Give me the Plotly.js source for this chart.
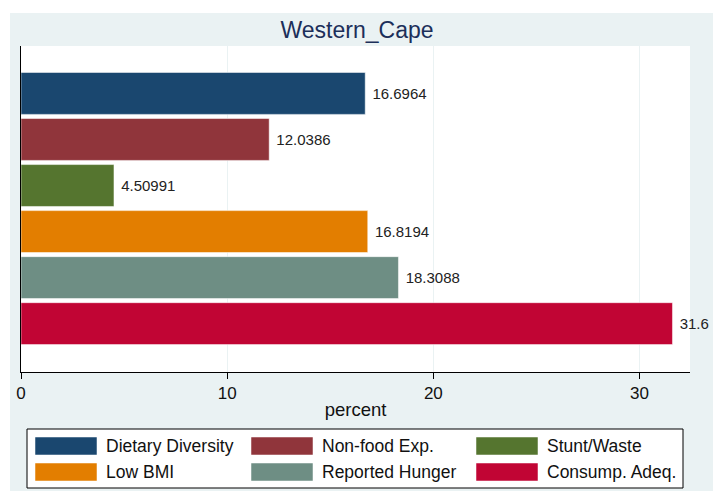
<!DOCTYPE html>
<html>
<head>
<meta charset="utf-8">
<script src="https://cdn.plot.ly/plotly-3.0.1.min.js"></script>
<style>
  body { margin: 0; background: #ffffff; }
  #chart { width: 713px; height: 491px; }
</style>
</head>
<body>
<div id="chart"></div>
<script>
var region = 'Western_Cape';
var indicators = ['Dietary Diversity', 'Non-food Exp.', 'Stunt/Waste', 'Low BMI', 'Reported Hunger', 'Consump. Adeq.'];
var percents = [16.6964, 12.0386, 4.50991, 16.8194, 18.3088, 31.6];
var colors = ['#1a476f', '#90353b', '#55752f', '#e37e00', '#6e8e84', '#c10534'];
var xTicks = [0, 10, 20, 30];

// plot area in pixels
var W = 713, H = 491;
var L = 21, R = 690, T = 46, B = 372;
function px(x) { return (x - L) / (R - L); }
function py(y) { return (B - y) / (B - T); }

var trace = {
    type: 'bar',
    orientation: 'h',
    y: indicators,
    x: percents,
    marker: {
        color: colors,
        line: { color: 'rgba(255,255,255,0.5)', width: 1 }
    },
    text: percents.map(function (v) { return '\u00a0' + v; }),
    textposition: 'outside',
    textfont: { family: 'Liberation Sans, Arial', size: 15, color: '#222222' },
    constraintext: 'none',
    cliponaxis: false,
    hoverinfo: 'x+y',
    showlegend: false
};

var shapes = [
    // light graph region
    { type: 'rect', xref: 'paper', yref: 'paper', layer: 'below',
      x0: px(10), x1: px(W + 5), y0: py(H + 5), y1: py(13),
      fillcolor: '#eaf2f3', line: { width: 0 } },
    // white plot region
    { type: 'rect', xref: 'paper', yref: 'paper', layer: 'below',
      x0: 0, x1: 1, y0: 0, y1: 1,
      fillcolor: '#ffffff', line: { width: 0 } },
    // legend box
    { type: 'rect', xref: 'paper', yref: 'paper', layer: 'above',
      x0: px(27), x1: px(683), y0: py(488), y1: py(429),
      fillcolor: '#ffffff', line: { color: '#000000', width: 1 } }
];
var annotations = [];

var colX = [35, 251, 476];
var rowY = [446, 472];
for (var i = 0; i < indicators.length; i++) {
    var cx = colX[i % 3], cy = rowY[Math.floor(i / 3)];
    shapes.push({
        type: 'rect', xref: 'paper', yref: 'paper', layer: 'above',
        x0: px(cx), x1: px(cx + 62), y0: py(cy + 9), y1: py(cy - 9),
        fillcolor: colors[i], line: { color: 'rgba(255,255,255,0.5)', width: 1 }
    });
    annotations.push({
        xref: 'paper', yref: 'paper', x: px(cx + 69), y: py(cy),
        xanchor: 'left', yanchor: 'middle', showarrow: false,
        text: indicators[i],
        font: { family: 'Liberation Sans, Arial', size: 17.5, color: '#111111' }
    });
}

var layout = {
    width: W,
    height: H,
    margin: { l: L, r: W - R, t: T, b: H - B, pad: 0 },
    paper_bgcolor: '#ffffff',
    plot_bgcolor: '#ffffff',
    title: {
        text: region,
        font: { family: 'Liberation Sans, Arial', size: 23, color: '#1c2f5a' },
        x: px(356), xanchor: 'center',
        y: 1 - 30 / H, yanchor: 'middle'
    },
    bargap: 0.09,
    xaxis: {
        range: [0, 32.45],
        tickvals: xTicks,
        ticks: 'outside',
        ticklen: 6,
        tickcolor: '#000000',
        showline: true,
        linecolor: '#000000',
        linewidth: 1,
        showgrid: true,
        gridcolor: '#eaf2f3',
        gridwidth: 1,
        zeroline: false,
        tickfont: { family: 'Liberation Sans, Arial', size: 17, color: '#111111' },
        title: {
            text: 'percent',
            font: { family: 'Liberation Sans, Arial', size: 18.5, color: '#111111' },
            standoff: 0
        },
        fixedrange: true
    },
    yaxis: {
        type: 'category',
        range: [6.05, -1.03],
        showticklabels: false,
        ticks: '',
        showline: true,
        linecolor: '#000000',
        linewidth: 1,
        showgrid: false,
        zeroline: false,
        fixedrange: true
    },
    shapes: shapes,
    annotations: annotations
};

Plotly.newPlot('chart', [trace], layout, { displayModeBar: false, staticPlot: true });
</script>
</body>
</html>
